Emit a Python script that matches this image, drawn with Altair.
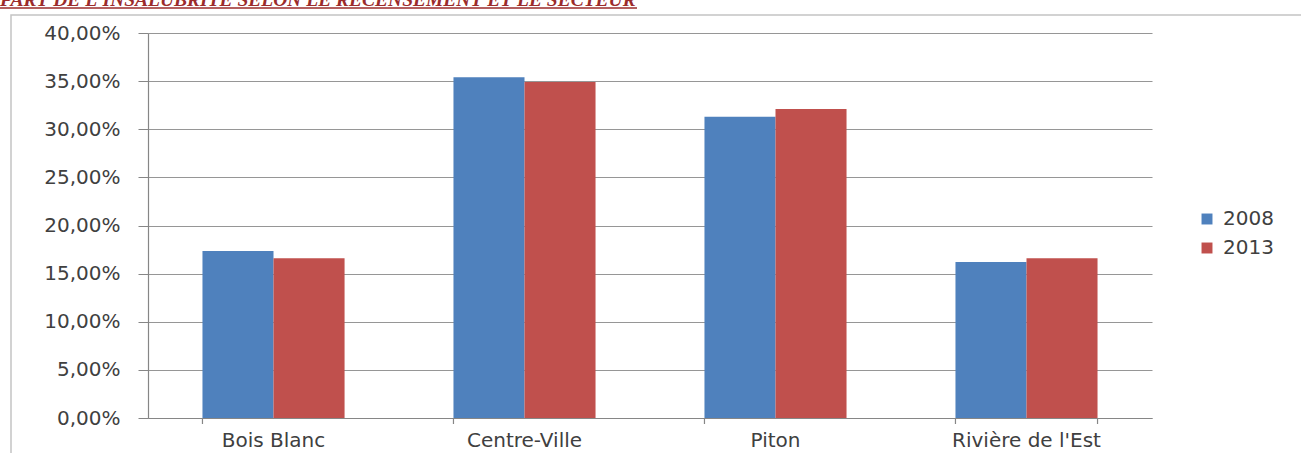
import altair as alt
import pandas as pd

# ---- data ----
categories = ["Bois Blanc", "Centre-Ville", "Piton", "Rivière de l'Est"]
years = ["2008", "2013"]
values_2008 = [0.1735, 0.354, 0.313, 0.162]
values_2013 = [0.166, 0.349, 0.321, 0.166]
y_ticks = [0, 0.05, 0.10, 0.15, 0.20, 0.25, 0.30, 0.35, 0.40]
title_text = "PART DE L'INSALUBRITE SELON LE RECENSEMENT ET LE SECTEUR"
colors = ["#4F81BD", "#C0504D"]

rows = []
for c, a, b in zip(categories, values_2008, values_2013):
    rows.append({"secteur": c, "annee": years[0], "part": a})
    rows.append({"secteur": c, "annee": years[1], "part": b})
df = pd.DataFrame(rows)

W, H = 1004, 385
PL, PT = 148, 33
FS = 20

x_scale = alt.Scale(domain=categories, paddingInner=0.434, paddingOuter=0.217)

bars = alt.Chart(df).mark_bar().encode(
    x=alt.X("secteur:N", scale=x_scale, sort=categories,
            axis=alt.Axis(title=None, labelAngle=0, ticks=False, labelPadding=12,
                          labelFont="DejaVu Sans", labelFontSize=FS, labelColor="#404040",
                          domainColor="#868686", domainWidth=1.2, grid=False)),
    xOffset=alt.XOffset("annee:N", sort=years, scale=alt.Scale(paddingInner=0, paddingOuter=0)),
    y=alt.Y("part:Q", scale=alt.Scale(domain=[0, 0.4], nice=False),
            axis=alt.Axis(title=None, values=y_ticks,
                          labelExpr="replace(format(datum.value, '.2%'), '.', ',')",
                          labelFont="DejaVu Sans", labelFontSize=FS, labelColor="#404040",
                          labelPadding=18, tickSize=10, tickColor="#868686",
                          domainColor="#868686", domainWidth=1.2,
                          gridColor="#969696", gridWidth=1.2)),
    color=alt.Color("annee:N", sort=years, scale=alt.Scale(domain=years, range=colors),
                    legend=alt.Legend(title=None, orient="none", legendX=1049, legendY=176,
                                      symbolType="square", symbolSize=120,
                                      symbolStrokeWidth=0, labelFont="DejaVu Sans",
                                      labelFontSize=FS, labelColor="#404040",
                                      labelOffset=6, rowPadding=9)),
)

sep_df = pd.DataFrame({"secteur": categories})
seps = alt.Chart(sep_df).mark_rule(color="#868686", strokeWidth=1.2).encode(
    x=alt.X("secteur:N", scale=x_scale, sort=categories, bandPosition=0),
    y=alt.value(H), y2=alt.value(H + 6),
)
seps_end = alt.Chart(pd.DataFrame({"secteur": categories[-1:]})).mark_rule(
    color="#868686", strokeWidth=1.2).encode(
    x=alt.X("secteur:N", scale=x_scale, sort=categories, bandPosition=1),
    y=alt.value(H), y2=alt.value(H + 6),
)

one = pd.DataFrame({"t": [title_text]})
frame = alt.Chart(one).mark_rect(fill="transparent", stroke="#C4C4C4", strokeWidth=1.5).encode(
    x=alt.value(11 - PL), x2=alt.value(1301 - PL + 10),
    y=alt.value(15 - PT), y2=alt.value(453 - PT + 10),
)
title = alt.Chart(one).mark_text(
    align="left", baseline="alphabetic", font="Liberation Serif", fontSize=19.5,
    fontWeight="bold", fontStyle="italic", color="#9B2B2B").encode(
    text="t:N", x=alt.value(-PL), y=alt.value(6 - PT),
)
underline = alt.Chart(one).mark_rule(color="#9B2B2B", strokeWidth=1.5).encode(
    x=alt.value(-PL), x2=alt.value(637 - PL), y=alt.value(8 - PT),
)

chart = alt.layer(bars, seps, seps_end, frame, title, underline).resolve_scale(
    x="shared"
).properties(
    width=W, height=H,
    autosize=alt.AutoSizeParams(type="none"),
    padding={"left": PL, "top": PT, "right": 1301 - PL - W, "bottom": 453 - PT - H},
    background="white",
).configure_view(stroke=None)

chart.save("out.html", embed_options={"renderer": "svg", "actions": False})
